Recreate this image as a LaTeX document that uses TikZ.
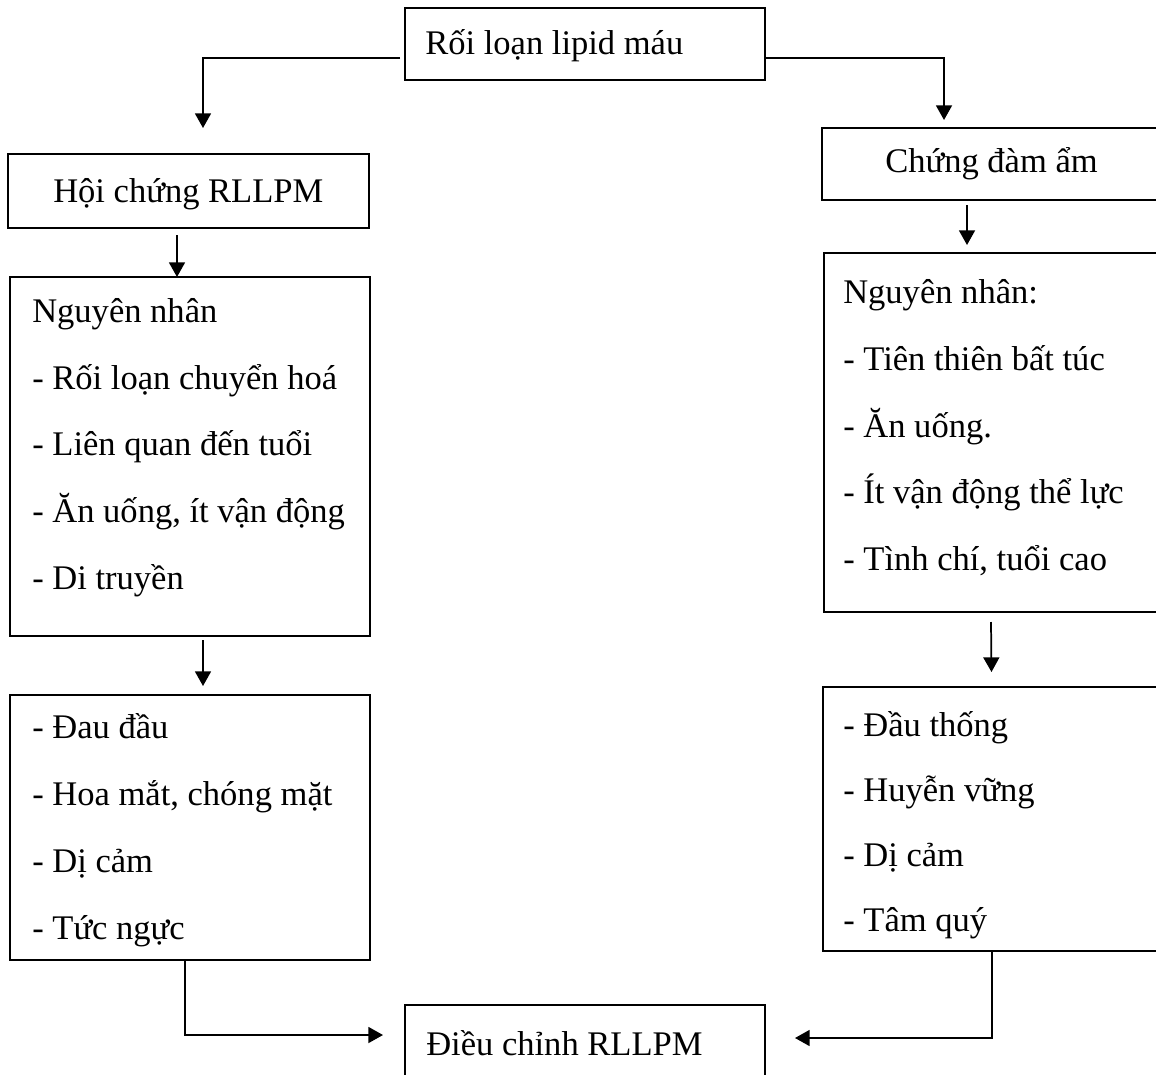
\documentclass[tikz,border=0pt]{standalone}
\usepackage{fontspec}
\setmainfont{Liberation Serif}
\usepackage{tikz}
\usetikzlibrary{arrows.meta}

\tikzset{
  box/.style={draw, line width=1.3pt, inner sep=0pt, outer sep=0pt, anchor=north west},
  txt/.style={anchor=base west, inner sep=0pt, font=\fontsize{25.9}{30}\selectfont},
  arr/.style={line width=1.3pt, -{Triangle[length=11pt,width=12pt]}}
}

\begin{document}
\begin{tikzpicture}[x=0.75pt,y=0.75pt,yscale=-1,xscale=1]
\clip (0,0) rectangle (1156,1074);

%Shape: Rectangle [top]
\node (top) [box, minimum width=270pt, minimum height=54pt] at (405,8) {};
%Shape: Rectangle [left header]
\node (hoi) [box, minimum width=270.75pt, minimum height=55.5pt] at (8,154) {};
%Shape: Rectangle [right header]
\node (dam) [box, minimum width=253.5pt, minimum height=54pt] at (822,128) {};
%Shape: Rectangle [left causes]
\node (nnL) [box, minimum width=270pt, minimum height=269.25pt] at (10,277) {};
%Shape: Rectangle [right causes]
\node (nnR) [box, minimum width=252pt, minimum height=269.25pt] at (824,253) {};
%Shape: Rectangle [left signs]
\node (tcL) [box, minimum width=270pt, minimum height=198.75pt] at (10,695) {};
%Shape: Rectangle [right signs]
\node (tcR) [box, minimum width=252.75pt, minimum height=198pt] at (823,687) {};
%Shape: Rectangle [bottom]
\node (dc) [box, minimum width=270pt, minimum height=56.25pt] at (405,1005) {};

%Straight Lines
\coordinate (endL) at (203,128);
\coordinate (endR) at (944,120);
\draw [arr] ([shift={(-5,14)}]top.west) -| (endL);
\draw [arr] ([shift={(0,14)}]top.east) -| (endR);
\draw [arr] ([shift={(-11.5,7)}]hoi.south) -- ([shift={(-13,0)}]nnL.north);
\draw [arr] ([shift={(13,4)}]nnL.south) -- ([shift={(13,-9)}]tcL.north);
\draw [arr] ([shift={(-24,5)}]dam.south) -- ([shift={(-25,-8)}]nnR.north);
\draw [arr] ([shift={(-1,10)}]nnR.south) -- ([shift={(0,-15)}]tcR.north);
\draw [arr] ([shift={(-5,0)}]tcL.south) |- ([shift={(-22,-7.5)}]dc.west);
\draw [arr] ([shift={(0.5,0)}]tcR.south) |- ([shift={(30,-4.5)}]dc.east);

% Text Node
\node (tTop) [txt] at (425,55) {Rối loạn lipid máu};
% Text Node
\node (tHoi) [txt] at (53,202) {Hội chứng RLLPM};
% Text Node
\node (tDam) [txt] at (885,172) {Chứng đàm ẩm};
% Text Node
\node (tL1) [txt] at (32,322) {Nguyên nhân};
\node (tL2) [txt] at (32,389) {- Rối loạn chuyển hoá};
\node (tL3) [txt] at (32,455.5) {- Liên quan đến tuổi};
\node (tL4) [txt] at (32,522) {- Ăn uống, ít vận động};
\node (tL5) [txt] at (32,589) {- Di truyền};
% Text Node
\node (tR1) [txt] at (843,303) {Nguyên nhân:};
\node (tR2) [txt] at (843,370) {- Tiên thiên bất túc};
\node (tR3) [txt] at (843,437) {- Ăn uống.};
\node (tR4) [txt] at (843,503) {- Ít vận động thể lực};
\node (tR5) [txt] at (843,570) {- Tình chí, tuổi cao};
% Text Node
\node (sL1) [txt] at (32,738) {- Đau đầu};
\node (sL2) [txt] at (32,805) {- Hoa mắt, chóng mặt};
\node (sL3) [txt] at (32,872) {- Dị cảm};
\node (sL4) [txt] at (32,939) {- Tức ngực};
% Text Node
\node (sR1) [txt] at (843,736) {- Đầu thống};
\node (sR2) [txt] at (843,801) {- Huyễn vững};
\node (sR3) [txt] at (843,866) {- Dị cảm};
\node (sR4) [txt] at (843,931) {- Tâm quý};
% Text Node
\node (tDc) [txt] at (426,1055) {Điều chỉnh RLLPM};

\end{tikzpicture}
\end{document}
